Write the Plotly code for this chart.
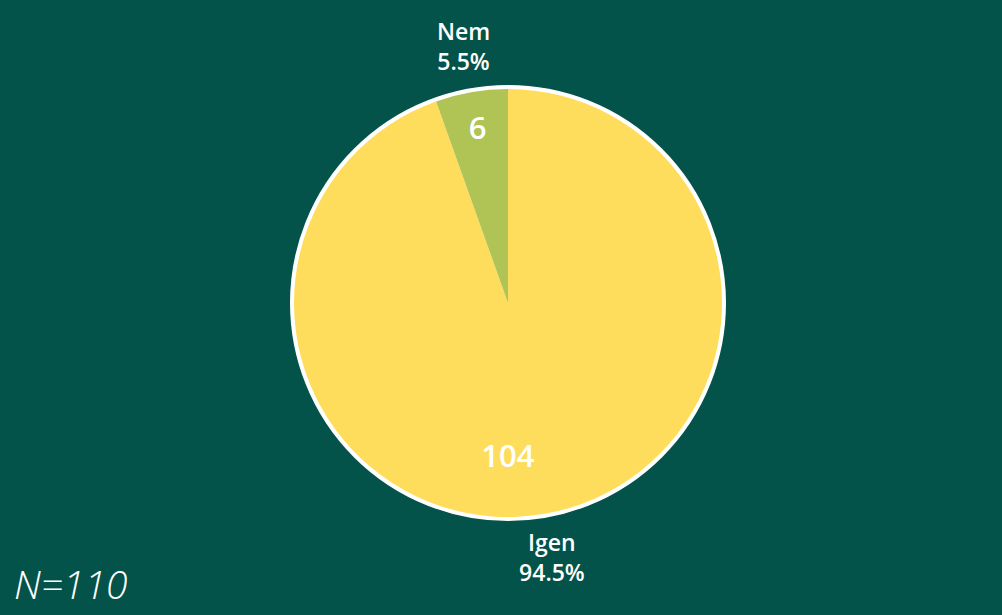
import plotly.graph_objects as go

labels = ["Igen", "Nem"]
values = [104, 6]
colors = ["#ffdd5c", "#b0c455"]
n_label = "N=110"

BG = "#03534a"
W, H = 1002, 615
cx, cy = 508, 303
r_fill = 214      # pie radius (px)


def domain(r):
    return dict(x=[(cx - r) / W, (cx + r) / W],
                y=[(H - cy - r) / H, (H - cy + r) / H])


font_fam = "Open Sans"
common = dict(labels=labels, values=values, sort=False,
              direction="clockwise", rotation=0, showlegend=False,
              hoverinfo="skip", insidetextorientation="horizontal")
clear = dict(colors=["rgba(0,0,0,0)"] * len(values), line=dict(width=0))
count_font = dict(color="white", size=31, family=font_fam, weight=600)
label_font = dict(color="white", size=23, family=font_fam, weight=600)

fig = go.Figure()

# white outer ring (background disc)
fig.add_trace(go.Pie(
    values=[sum(values)], labels=["total"], domain=domain(r_fill),
    marker=dict(colors=["white"], line=dict(color="white", width=8)),
    textinfo="none", hoverinfo="skip", showlegend=False, sort=False,
))

# data slices
fig.add_trace(go.Pie(
    labels=labels, values=values, sort=False, direction="clockwise",
    rotation=0, showlegend=False, domain=domain(r_fill),
    marker=dict(colors=colors, line=dict(width=0)), textinfo="none",
))

# invisible rings carrying the counts
fig.add_trace(go.Pie(
    **common, domain=domain(209), hole=0.55, marker=clear,
    texttemplate="%{value}", textposition=["none", "inside"],
    insidetextfont=count_font,
))
fig.add_trace(go.Pie(
    **common, domain=domain(180), hole=127 / 180, marker=clear,
    texttemplate="%{value}", textposition=["inside", "none"],
    insidetextfont=count_font,
))

# invisible outer rings carrying the category labels
fig.add_trace(go.Pie(
    **common, domain=domain(302), hole=220 / 302, marker=clear,
    texttemplate="%{label}<br>%{percent:.1%}", textposition=["none", "inside"],
    insidetextfont=label_font,
))
fig.add_trace(go.Pie(
    **common, domain=domain(303), hole=212 / 303, marker=clear,
    texttemplate="%{label}<br>%{percent:.1%}", textposition=["inside", "none"],
    insidetextfont=label_font,
))

fig.add_annotation(
    text=n_label, xref="paper", yref="paper", x=0.012, y=0.005,
    xanchor="left", yanchor="bottom", showarrow=False,
    font=dict(color="white", size=39, family=font_fam, style="italic", weight=300),
)

fig.update_layout(
    width=W, height=H, paper_bgcolor=BG, plot_bgcolor=BG,
    margin=dict(l=0, r=0, t=0, b=0), showlegend=False,
)

fig.write_html("out.html")
